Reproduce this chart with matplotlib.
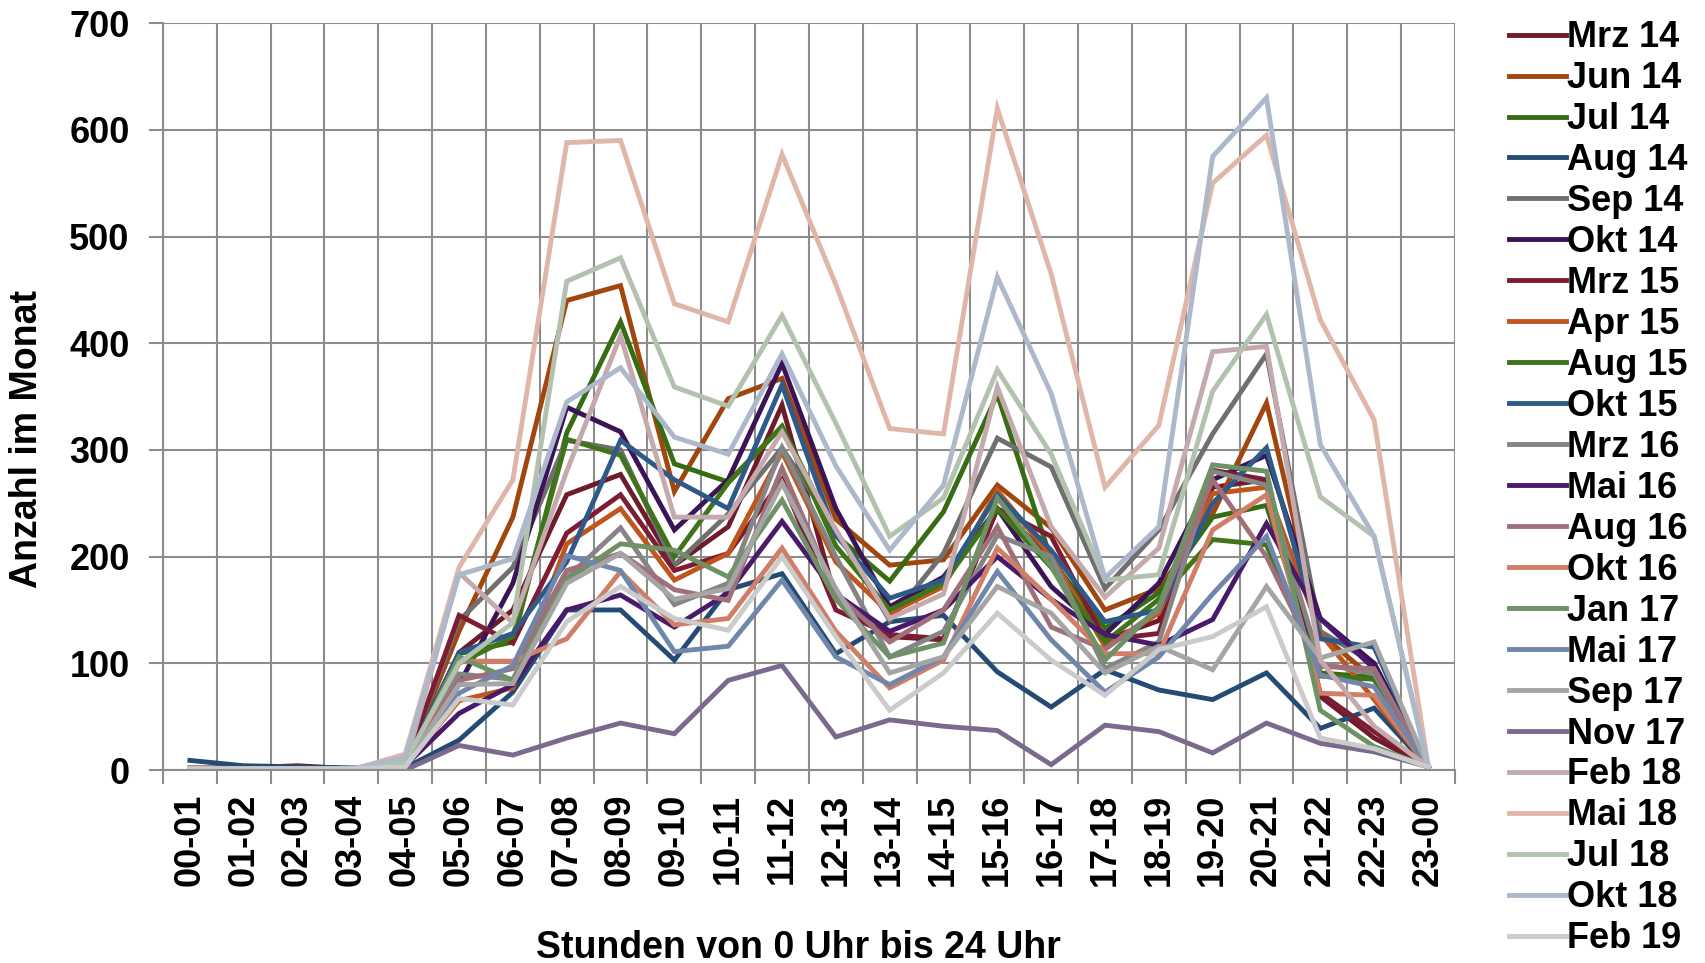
import matplotlib.pyplot as plt
from matplotlib.ticker import MultipleLocator, FixedLocator

hours = ["00-01", "01-02", "02-03", "03-04", "04-05", "05-06", "06-07", "07-08",
         "08-09", "09-10", "10-11", "11-12", "12-13", "13-14", "14-15", "15-16",
         "16-17", "17-18", "18-19", "19-20", "20-21", "21-22", "22-23", "23-00"]

months = ["Mrz 14", "Jun 14", "Jul 14", "Aug 14", "Sep 14", "Okt 14", "Mrz 15",
          "Apr 15", "Aug 15", "Okt 15", "Mrz 16", "Mai 16", "Aug 16", "Okt 16",
          "Jan 17", "Mai 17", "Sep 17", "Nov 17", "Feb 18", "Mai 18", "Jul 18",
          "Okt 18", "Feb 19"]

colors = ["#6E1B2B", "#A0460E", "#386C14", "#244B73", "#6F6F6F", "#3A1456",
          "#7E1C33", "#C0561D", "#3F7418", "#2F5988", "#858585", "#4A1A6A",
          "#A0707A", "#CF7F68", "#6E9165", "#7087AB", "#A5A5A5", "#7B6A8D",
          "#C4AAAC", "#DFB6A8", "#B3C2AE", "#ADB8CA", "#CBCBCB"]

mrz14 = [2, 2, 4, 1, 5, 110, 150, 258, 277, 192, 228, 342, 160, 125, 122, 245, 200, 122, 140, 265, 272, 69, 30, 3]
jun14 = [1, 1, 2, 1, 5, 130, 237, 440, 454, 261, 348, 367, 235, 192, 197, 267, 227, 150, 170, 240, 344, 128, 85, 3]
jul14 = [1, 1, 1, 1, 5, 109, 120, 316, 420, 287, 270, 322, 220, 177, 242, 352, 197, 133, 166, 237, 248, 91, 87, 3]
aug14 = [9, 4, 3, 2, 2, 28, 73, 150, 150, 103, 169, 184, 109, 139, 145, 92, 59, 94, 75, 66, 91, 39, 58, 3]
sep14 = [1, 1, 1, 1, 5, 140, 190, 309, 300, 192, 240, 302, 225, 140, 203, 311, 284, 170, 225, 315, 390, 130, 100, 3]
okt14 = [1, 1, 1, 1, 4, 80, 175, 340, 317, 225, 272, 381, 245, 153, 181, 245, 172, 127, 175, 272, 295, 142, 100, 3]
mrz15 = [1, 1, 1, 1, 5, 145, 119, 222, 258, 187, 203, 272, 150, 127, 123, 245, 219, 122, 128, 281, 272, 72, 36, 3]
apr15 = [1, 1, 1, 1, 4, 65, 77, 212, 245, 178, 203, 298, 195, 147, 172, 262, 200, 116, 147, 259, 265, 128, 66, 3]
aug15 = [1, 1, 1, 1, 4, 100, 125, 310, 295, 200, 269, 322, 210, 150, 175, 245, 190, 120, 160, 216, 211, 88, 85, 3]
okt15 = [1, 1, 1, 1, 5, 110, 128, 195, 309, 272, 245, 361, 220, 161, 178, 258, 206, 139, 150, 250, 302, 123, 115, 3]
mrz16 = [1, 1, 1, 1, 5, 90, 85, 180, 227, 155, 175, 302, 200, 106, 130, 220, 200, 95, 120, 280, 267, 100, 90, 3]
mai16 = [1, 1, 1, 1, 4, 53, 80, 150, 164, 134, 166, 233, 165, 130, 150, 200, 160, 127, 117, 141, 231, 142, 95, 3]
aug16 = [1, 1, 1, 1, 4, 84, 95, 187, 203, 169, 159, 283, 165, 120, 150, 228, 134, 113, 150, 272, 200, 97, 95, 3]
okt16 = [1, 1, 1, 1, 4, 102, 102, 123, 186, 136, 142, 208, 130, 77, 103, 208, 160, 109, 109, 225, 258, 72, 70, 3]
jan17 = [1, 1, 1, 1, 4, 106, 84, 178, 212, 206, 181, 253, 160, 106, 119, 255, 191, 103, 153, 286, 280, 56, 22, 3]
mai17 = [1, 1, 1, 1, 3, 72, 98, 201, 187, 111, 116, 178, 106, 80, 106, 186, 122, 73, 106, 165, 219, 89, 78, 3]
sep17 = [1, 1, 1, 1, 4, 80, 81, 175, 203, 160, 170, 269, 170, 91, 106, 172, 147, 91, 116, 94, 172, 105, 120, 3]
nov17 = [0, 0, 0, 0, 0, 23, 14, 30, 44, 34, 84, 98, 31, 47, 41, 37, 5, 42, 36, 16, 44, 25, 17, 3]
feb18 = [1, 1, 1, 1, 5, 185, 138, 280, 407, 237, 237, 317, 225, 142, 165, 359, 228, 162, 208, 392, 397, 103, 41, 3]
mai18 = [1, 1, 1, 0, 15, 190, 272, 588, 590, 437, 420, 577, 455, 320, 315, 620, 465, 265, 323, 550, 595, 422, 328, 5]
jul18 = [1, 1, 1, 1, 8, 100, 138, 458, 480, 359, 341, 426, 325, 219, 255, 375, 296, 178, 183, 355, 427, 256, 219, 3]
okt18 = [1, 1, 1, 1, 12, 183, 198, 345, 377, 312, 296, 390, 285, 206, 267, 462, 353, 180, 228, 575, 630, 305, 219, 5]
feb19 = [1, 1, 1, 1, 3, 67, 61, 139, 172, 142, 131, 200, 125, 56, 91, 147, 103, 70, 113, 125, 153, 30, 20, 3]

series = [mrz14, jun14, jul14, aug14, sep14, okt14, mrz15, apr15, aug15, okt15,
          mrz16, mai16, aug16, okt16, jan17, mai17, sep17, nov17, feb18, mai18,
          jul18, okt18, feb19]

plt.rcParams['font.family'] = ['Liberation Sans', 'DejaVu Sans']
plt.rcParams['font.weight'] = 'bold'

fig = plt.figure(figsize=(17.05, 9.63), dpi=100)
ax = fig.add_axes([0.0956, 0.2004, 0.7577, 0.7756])

x = list(range(len(hours)))
for vals, name, col in zip(series, months, colors):
    ax.plot(x, vals, color=col, lw=3.5, label=name, solid_joinstyle='miter')

grid_col = "#8C8C8C"
fs = 26
ax.set_xlim(-0.5, 23.5)
ax.set_ylim(0, 700)
ax.yaxis.set_major_locator(MultipleLocator(100))
ax.set_xticks(x)
ax.set_xticklabels(hours, rotation=90, fontsize=fs, fontweight='bold')
ax.xaxis.set_minor_locator(FixedLocator([i - 0.5 for i in range(25)]))
ax.tick_params(axis='x', which='major', length=0, pad=17)
ax.tick_params(axis='x', which='minor', length=10, width=1.5, color=grid_col)
ax.tick_params(axis='y', which='major', length=10, width=1.5, color=grid_col,
               labelsize=fs, pad=14)
for lab in ax.get_yticklabels():
    lab.set_fontweight('bold')

ax.grid(True, axis='y', which='major', color=grid_col, lw=1.5)
ax.grid(True, axis='x', which='minor', color=grid_col, lw=1.5)
ax.set_axisbelow(True)
for s in ['top', 'right']:
    ax.spines[s].set_visible(False)
for s in ['left', 'bottom']:
    ax.spines[s].set_color(grid_col)
    ax.spines[s].set_linewidth(1.5)

fig.text(0.016, 0.544, "Anzahl im Monat", fontsize=27, fontweight='bold',
         rotation=90, ha='center', va='center')
fig.text(0.468, 0.016, "Stunden von 0 Uhr bis 24 Uhr", fontsize=27,
         fontweight='bold', ha='center', va='center')

fig.legend(loc='upper left', bbox_to_anchor=(0.885, 0.979), frameon=False,
           handlelength=1.57, handletextpad=0.05,
           labelspacing=0.165, borderaxespad=0, borderpad=0.0,
           prop={'weight': 'bold', 'size': fs})

fig.savefig("out.png", dpi=100)
